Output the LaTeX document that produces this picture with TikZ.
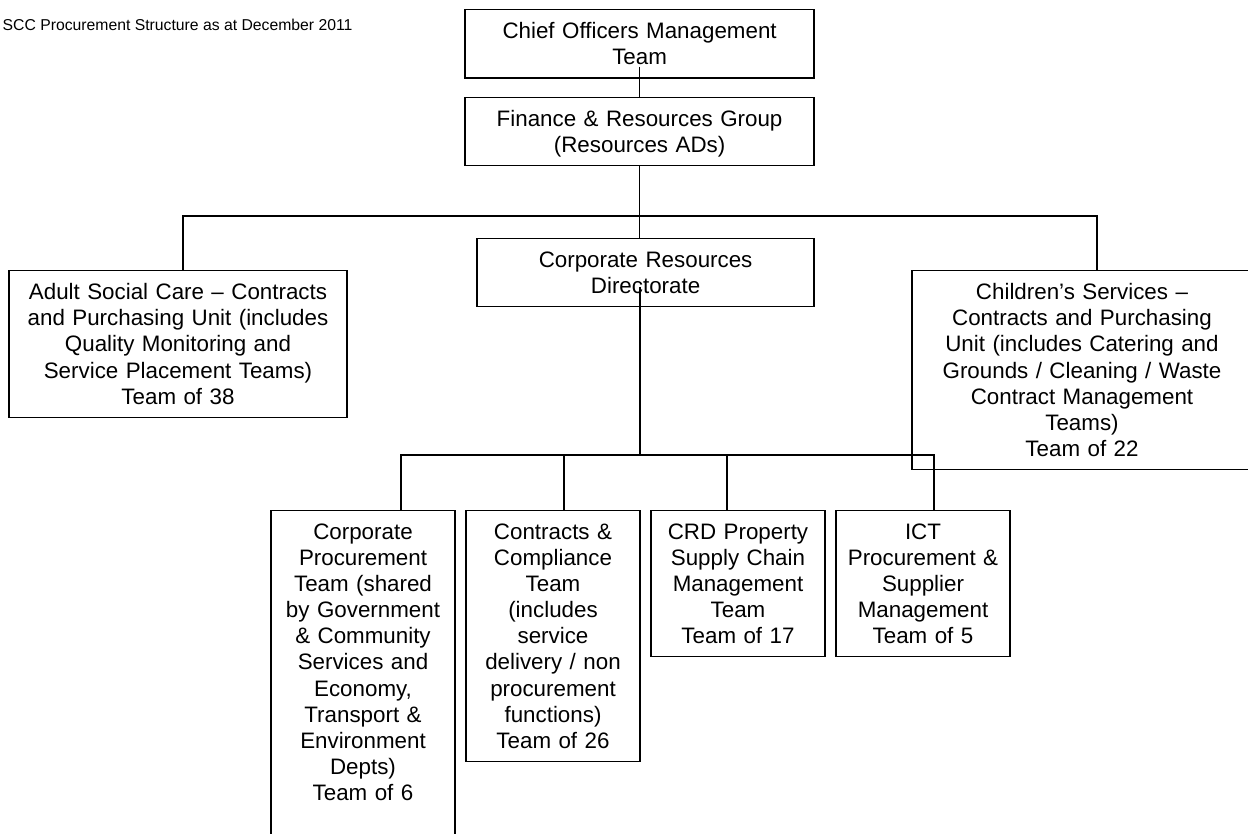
\documentclass[tikz,border=0pt]{standalone}
\usepackage{fontspec}
\setmainfont{Liberation Sans}
\usepackage{tikz}
\usetikzlibrary{calc,positioning}

\begin{document}
\begin{tikzpicture}[
    line width=1pt,
    every node/.style={font=\fontsize{15.9}{18.6}\selectfont},
    unit/.style={rectangle, draw, anchor=north, align=center, inner xsep=0pt, inner ysep=0.32cm},
]
    \useasboundingbox (0,0) rectangle (31.2,-20.85);

    % Title
    \node[anchor=west, inner xsep=0pt, font=\fontsize{11.2}{13.4}\selectfont] (title) at (0.05,-0.625) {SCC Procurement Structure as at December 2011};

    % Top of the tree
    \node[unit, text width=8.725cm] (chief) at (15.99,-0.225) {Chief Officers Management\\Team};
    \node[unit, text width=8.725cm, text depth=0.655cm] (finance) at (15.99,-2.425) {Finance \& Resources Group\\(Resources ADs)};

    % Middle layer
    \node[unit, text width=8.425cm] (crd) at (16.14,-5.95) {Corporate Resources\\Directorate};
    \node[unit, text width=8.45cm] (asc) at (4.45,-6.75) {Adult Social Care – Contracts\\and Purchasing Unit (includes\\Quality Monitoring and\\Service Placement Teams)\\Team of 38};
    \node[unit, text width=8.5cm] (children) at (27.05,-6.75) {Children’s Services –\\Contracts and Purchasing\\Unit (includes Catering and\\Grounds / Cleaning / Waste\\Contract Management\\Teams)\\Team of 22};

    % Bottom layer
    \node[unit, text width=4.6cm, text depth=7.4cm] (corp) at (9.075,-12.75) {Corporate\\Procurement\\Team (shared\\by Government\\\& Community\\Services and\\Economy,\\Transport \&\\Environment\\Depts)\\Team of 6};
    \node[unit, text width=4.35cm] (cc) at (13.825,-12.75) {Contracts \&\\Compliance\\Team\\(includes\\service\\delivery / non\\procurement\\functions)\\Team of 26};
    \node[unit, text width=4.35cm] (prop) at (18.45,-12.75) {CRD Property\\Supply Chain\\Management\\Team\\Team of 17};
    \node[unit, text width=4.35cm] (ict) at (23.075,-12.75) {ICT\\Procurement \&\\Supplier\\Management\\Team of 5};

    % Connectors
    \coordinate (topbus) at (16,-5.4);
    \coordinate (lowbus) at (16,-11.375);
    \draw ($(chief.south)+(0,0.3)$) -- (finance.north);
    \draw (finance.south) -- (finance.south |- crd.north);
    \draw ($(asc.north)+(0.125,0)$) |- (topbus) -| ($(children.north)+(0.375,0)$);
    \draw ($(crd.south)+(-0.14,0.5)$) -- (lowbus);
    \draw ($(corp.north)+(0.95,0)$) |- (lowbus) -| ($(ict.north)+(0.275,0)$);
    \draw ($(cc.north)+(0.275,0)$) |- (lowbus);
    \draw ($(prop.north)+(-0.275,0)$) |- (lowbus);
\end{tikzpicture}
\end{document}
